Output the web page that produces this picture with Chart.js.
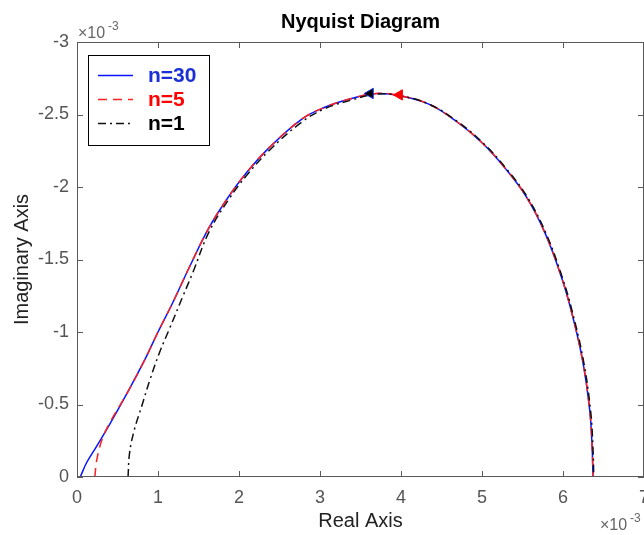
<!DOCTYPE html>
<html>
<head>
<meta charset="utf-8">
<script src="https://cdn.jsdelivr.net/npm/chart.js@4/dist/chart.umd.min.js"></script>
<style>
  html, body { margin: 0; padding: 0; background: #fff; }
</style>
</head>
<body>
<canvas id="nyquist" width="644" height="535"></canvas>
<script>
// values in units of 1e-3
const realN30 = [0.04, 0.12, 0.24, 0.41, 0.61, 0.82, 1.0, 1.18, 1.39, 1.63, 1.88, 2.08, 2.37, 2.78, 3.06, 3.39, 3.70, 3.98, 4.35, 4.69, 5.01, 5.30, 5.55, 5.78, 5.98, 6.10, 6.24, 6.33, 6.36, 6.37];
const imagN30 = [0, -0.10, -0.21, -0.37, -0.57, -0.79, -1.0, -1.20, -1.45, -1.72, -1.94, -2.09, -2.27, -2.47, -2.55, -2.61, -2.645, -2.63, -2.57, -2.45, -2.30, -2.12, -1.93, -1.68, -1.38, -1.15, -0.81, -0.46, -0.2, 0];

const realN5 = [0.22, 0.245, 0.31, 0.41, 0.61, 0.82, 1.0, 1.18, 1.39, 1.63, 1.88, 2.08, 2.37, 2.78, 3.06, 3.39, 3.70, 3.98, 4.35, 4.69, 5.01, 5.30, 5.55, 5.78, 5.98, 6.10, 6.24, 6.33, 6.36, 6.37];
const imagN5 = [0, -0.12, -0.26, -0.38, -0.57, -0.79, -1.0, -1.20, -1.45, -1.72, -1.94, -2.09, -2.27, -2.47, -2.55, -2.61, -2.645, -2.63, -2.57, -2.45, -2.30, -2.12, -1.93, -1.68, -1.38, -1.15, -0.81, -0.46, -0.2, 0];

const realN1 = [0.63, 0.65, 0.71, 0.80, 0.90, 1.02, 1.14, 1.31, 1.43, 1.63, 1.88, 2.08, 2.37, 2.78, 3.06, 3.39, 3.70, 3.98, 4.35, 4.70, 5.02, 5.31, 5.56, 5.79, 5.99, 6.11, 6.25, 6.34, 6.37, 6.38];
const imagN1 = [0, -0.17, -0.33, -0.49, -0.67, -0.86, -1.02, -1.25, -1.41, -1.69, -1.92, -2.07, -2.25, -2.45, -2.54, -2.60, -2.64, -2.63, -2.57, -2.45, -2.30, -2.12, -1.93, -1.68, -1.38, -1.15, -0.81, -0.46, -0.2, 0];

// direction arrows on the curves
const arrowN30 = [3.62, -2.645];
const arrowN5 = [3.98, -2.635];

const xTicks = [0, 1, 2, 3, 4, 5, 6, 7];
const yTicks = [-3, -2.5, -2, -1.5, -1, -0.5, 0];

const seriesNames = ['n=30', 'n=5', 'n=1'];

function toPoints(xs, ys) {
  return xs.map((x, i) => ({ x: x, y: ys[i] }));
}

const FONT = "'Liberation Sans', Arial, sans-serif";

// inward ticks + full box like a MATLAB axes, title and exponent labels
const boxPlugin = {
  id: 'box',
  afterDraw(chart) {
    const ctx = chart.ctx;
    const a = chart.chartArea;
    const xs = chart.scales.x, ys = chart.scales.y;
    ctx.save();
    ctx.strokeStyle = '#5a5a5a';
    ctx.lineWidth = 1;
    ctx.strokeRect(a.left + 0.5, a.top + 0.5, a.right - a.left - 1, a.bottom - a.top - 1);
    ctx.beginPath();
    xTicks.forEach(v => {
      const px = Math.round(xs.getPixelForValue(v)) + 0.5;
      ctx.moveTo(px, a.bottom); ctx.lineTo(px, a.bottom - 6);
      ctx.moveTo(px, a.top); ctx.lineTo(px, a.top + 6);
    });
    yTicks.forEach(v => {
      const py = Math.round(ys.getPixelForValue(v)) + 0.5;
      ctx.moveTo(a.left, py); ctx.lineTo(a.left + 6, py);
      ctx.moveTo(a.right, py); ctx.lineTo(a.right - 6, py);
    });
    ctx.stroke();

    // title, centred over the axes box
    ctx.fillStyle = '#000';
    ctx.font = 'bold 20px ' + FONT;
    ctx.textAlign = 'center';
    ctx.textBaseline = 'middle';
    ctx.fillText('Nyquist Diagram', (a.left + a.right) / 2, 22);

    // exponent labels
    ctx.fillStyle = '#666';
    ctx.textBaseline = 'alphabetic';
    ctx.textAlign = 'left';
    ctx.font = '16px ' + FONT;
    ctx.fillText('\u00d710', a.left + 1, 38);
    ctx.font = '12px ' + FONT;
    ctx.fillText('-3', a.left + 31, 30);
    ctx.font = '16px ' + FONT;
    ctx.fillText('\u00d710', 600, 530);
    ctx.font = '12px ' + FONT;
    ctx.fillText('-3', 630, 522);
    ctx.restore();
  }
};

// legend box inside the axes
const legendPlugin = {
  id: 'innerLegend',
  afterDraw(chart) {
    const ctx = chart.ctx;
    const textColors = ['#1a2fd6', '#ff0000', '#000000'];
    ctx.save();
    ctx.fillStyle = '#fff';
    ctx.fillRect(88, 55, 121, 90);
    ctx.strokeStyle = '#000';
    ctx.lineWidth = 1;
    ctx.strokeRect(88.5, 55.5, 121, 90);
    seriesNames.forEach((name, i) => {
      const ds = chart.data.datasets[i];
      const y = 75 + i * 24;
      ctx.strokeStyle = ds.borderColor;
      ctx.lineWidth = 1.3;
      ctx.setLineDash(ds.borderDash || []);
      ctx.beginPath();
      ctx.moveTo(98, y + 0.5);
      ctx.lineTo(133, y + 0.5);
      ctx.stroke();
      ctx.setLineDash([]);
      ctx.fillStyle = textColors[i];
      ctx.font = 'bold 21px ' + FONT;
      ctx.textAlign = 'left';
      ctx.textBaseline = 'middle';
      ctx.fillText(name, 148, y + 1);
    });
    ctx.restore();
  }
};

new Chart(document.getElementById('nyquist'), {
  type: 'scatter',
  data: {
    datasets: [
      {
        label: seriesNames[0],
        data: toPoints(realN30, imagN30),
        showLine: true,
        borderColor: '#0a14ff',
        borderWidth: 1.5,
        pointRadius: 0,
        tension: 0.4,
        order: 3
      },
      {
        label: seriesNames[1],
        data: toPoints(realN5, imagN5),
        showLine: true,
        borderColor: '#ff2020',
        borderWidth: 1.5,
        borderDash: [9, 6],
        pointRadius: 0,
        tension: 0.4,
        order: 2
      },
      {
        label: seriesNames[2],
        data: toPoints(realN1, imagN1),
        showLine: true,
        borderColor: '#111',
        borderWidth: 1.5,
        borderDash: [8, 4, 2, 4],
        pointRadius: 0,
        tension: 0.4,
        order: 1
      },
      {
        label: 'arrow30',
        data: [{ x: arrowN30[0], y: arrowN30[1] }],
        pointStyle: 'triangle',
        rotation: -90,
        pointRadius: 6,
        backgroundColor: '#000',
        borderColor: '#1a2fd6',
        borderWidth: 1,
        order: 0
      },
      {
        label: 'arrow5',
        data: [{ x: arrowN5[0], y: arrowN5[1] }],
        pointStyle: 'triangle',
        rotation: -90,
        pointRadius: 6,
        backgroundColor: '#ff0000',
        borderColor: '#ff0000',
        borderWidth: 1,
        order: 0
      }
    ]
  },
  options: {
    responsive: false,
    animation: false,
    layout: { padding: { top: 42, left: 0, right: 0, bottom: 0 }, autoPadding: false },
    plugins: {
      legend: { display: false },
      tooltip: { enabled: false },
      title: { display: false }
    },
    scales: {
      x: {
        type: 'linear',
        position: 'bottom',
        min: 0,
        max: 7,
        afterBuildTicks: s => { s.ticks = xTicks.map(v => ({ value: v })); },
        afterFit: s => { s.height = 58; s.paddingLeft = 0; s.paddingRight = 0; },
        grid: { display: false, drawTicks: false },
        border: { display: false },
        ticks: {
          color: '#555',
          font: { family: FONT, size: 18 },
          padding: 10,
          maxRotation: 0,
          callback: v => String(v)
        },
        title: {
          display: true,
          text: 'Real Axis',
          color: '#222',
          font: { family: FONT, size: 20 },
          padding: { top: 0, bottom: 2 }
        }
      },
      y: {
        type: 'linear',
        min: -3,
        max: 0,
        reverse: true,
        afterBuildTicks: s => { s.ticks = yTicks.map(v => ({ value: v })); },
        afterFit: s => { s.width = 77; s.paddingTop = 0; s.paddingBottom = 0; },
        grid: { display: false, drawTicks: false },
        border: { display: false },
        ticks: {
          color: '#555',
          font: { family: FONT, size: 18 },
          padding: 8,
          callback: v => String(v)
        },
        title: {
          display: true,
          text: 'Imaginary Axis',
          color: '#222',
          font: { family: FONT, size: 20 },
          padding: { top: 10, bottom: 0 }
        }
      }
    }
  },
  plugins: [boxPlugin, legendPlugin]
});
</script>
</body>
</html>
